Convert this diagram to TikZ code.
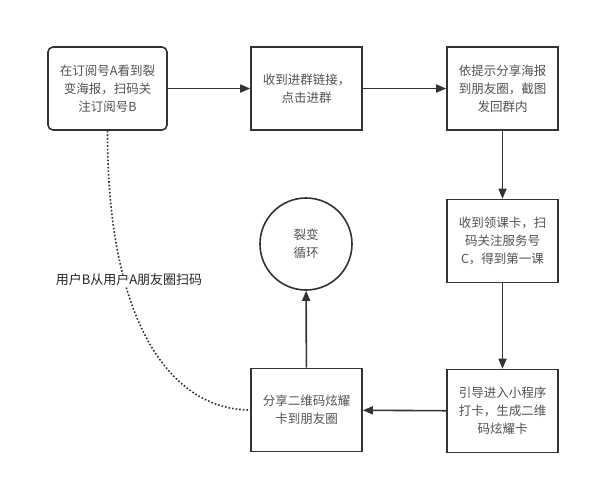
\documentclass[tikz,border=0pt]{standalone}
\usepackage{fontspec}
\setmainfont{Noto Sans CJK SC}
\usetikzlibrary{arrows.meta}
\definecolor{ink}{HTML}{333333}
\begin{document}
\begin{tikzpicture}[x=1pt,y=-1pt,
  box/.style={draw=ink, line width=1.6pt, minimum width=111pt, minimum height=83pt,
    inner sep=0pt, align=center, font=\fontsize{12.5}{18}\selectfont, text=ink!85},
  flow/.style={draw=ink, line width=1.6pt, -{Triangle[length=10pt,width=8pt]}}]
\useasboundingbox[fill=white] (0,0) rectangle (592,485);
\node[box, rounded corners=5pt, minimum width=119pt] (1) at (107.5,88.5) {在订阅号A看到裂\\变海报，扫码关\\注订阅号B};
\node[box] (2) at (306.5,88.5) {收到进群链接，\\点击进群};
\node[box] (3) at (502.5,88.5) {依提示分享海报\\到朋友圈，截图\\发回群内};
\node[box] (4) at (502.5,241) {收到领课卡，扫\\码关注服务号\\C，得到第一课};
\node[box] (6) at (502.5,411) {引导进入小程序\\打卡，生成二维\\码炫耀卡};
\node[box] (5) at (306.5,410) {分享二维码炫耀\\卡到朋友圈};
\node[box, circle, minimum size=92pt] (c) at (306,244) {裂变\\循环};

\path[flow] (1) -- (2);
\path[flow] (2) -- (3);
\path[flow] (3) -- (4);
\path[flow] (4) -- (6);
\path[flow] (6) -- (5);
\path[flow] (5) -- (c);

\path[draw=ink, line width=1.6pt, dotted] (1.south) .. controls (107,330) and (175,410) .. (5.west);
\node[fill=white, inner sep=1pt, font=\fontsize{13}{15}\selectfont, text=black!85] (lbl) at (129,280) {用户B从用户A朋友圈扫码};
\end{tikzpicture}
\end{document}
